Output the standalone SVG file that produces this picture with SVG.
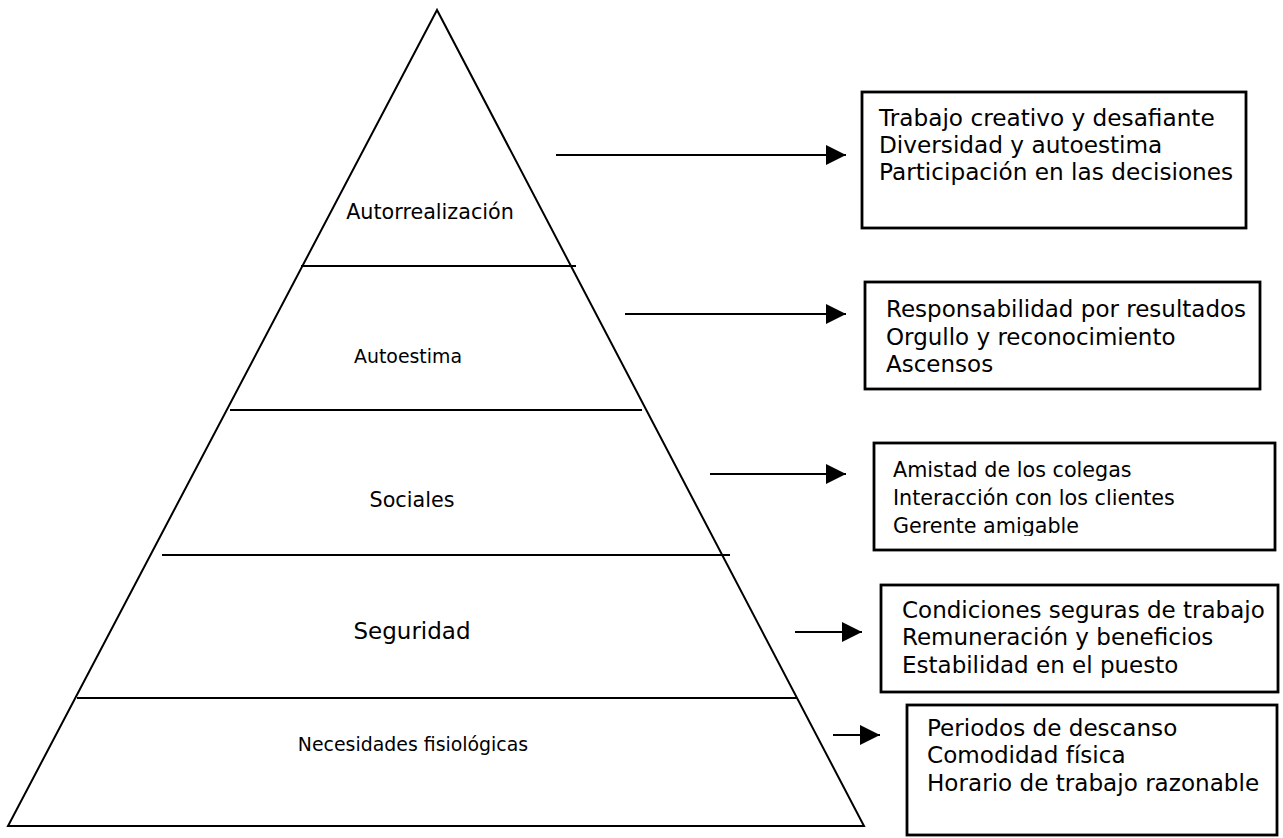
<svg xmlns="http://www.w3.org/2000/svg" width="1283" height="838" viewBox="0 0 1283 838">
<style>
.t{font-family:"DejaVu Sans","Verdana",sans-serif;font-size:20.7px;fill:#000}
.lbl{text-anchor:middle}
.big{font-size:23px}
.sm{font-size:18.9px}
.b1{font-size:23.2px}
.b2{font-size:23px}
.b3{font-size:20.7px}
.b4{font-size:23px}
.b5{font-size:23.1px}
.edge{stroke:#000;stroke-width:2;fill:none}
.box{stroke:#000;stroke-width:2.8;fill:#fff}
.arr{stroke:#000;stroke-width:2;fill:none;marker-end:url(#ah)}
</style>
<defs>
<marker id="ah" markerUnits="userSpaceOnUse" markerWidth="22" markerHeight="22" refX="20" refY="10" orient="auto">
<path d="M0,0 L20,10 L0,20 Z" fill="#000"/>
</marker>
<clipPath id="c3"><rect x="874" y="443" width="401" height="93"/></clipPath>
</defs>
<rect width="1283" height="838" fill="#fff"/>
<g id="pyramid">
<polygon class="edge" points="437,10 8,826 864,826"/>
<line class="edge" x1="301" y1="266" x2="576" y2="266"/>
<line class="edge" x1="230" y1="410" x2="642" y2="410"/>
<line class="edge" x1="162" y1="555" x2="730" y2="555"/>
<line class="edge" x1="77" y1="698" x2="797" y2="698"/>
</g>
<g id="lvl-autorrealizacion"><text class="t lbl" x="430" y="219">Autorrealización</text></g>
<g id="lvl-autoestima"><text class="t lbl sm" x="408" y="363">Autoestima</text></g>
<g id="lvl-sociales"><text class="t lbl" x="412" y="507">Sociales</text></g>
<g id="lvl-seguridad"><text class="t lbl big" x="412" y="639">Seguridad</text></g>
<g id="lvl-fisiologicas"><text class="t lbl sm" x="413" y="751">Necesidades fisiológicas</text></g>
<g id="connectors">
<line class="arr" x1="556" y1="155" x2="846" y2="155"/>
<line class="arr" x1="625" y1="314" x2="846" y2="314"/>
<line class="arr" x1="710" y1="474" x2="846" y2="474"/>
<line class="arr" x1="795" y1="632" x2="862" y2="632"/>
<line class="arr" x1="833" y1="735" x2="880" y2="735"/>
</g>
<g id="box1">
<rect class="box" x="862" y="92" width="384" height="136"/>
<text class="t b1" x="879" y="126">Trabajo creativo y desafiante</text>
<text class="t b1" x="879" y="153">Diversidad y autoestima</text>
<text class="t b1" x="879" y="180">Participación en las decisiones</text>
</g>
<g id="box2">
<rect class="box" x="865" y="282" width="395" height="107"/>
<text class="t b2" x="886" y="317">Responsabilidad por resultados</text>
<text class="t b2" x="886" y="345">Orgullo y reconocimiento</text>
<text class="t b2" x="886" y="372">Ascensos</text>
</g>
<g id="box3">
<rect class="box" x="874" y="443" width="401" height="107"/>
<g clip-path="url(#c3)">
<text class="t b3" x="893" y="477">Amistad de los colegas</text>
<text class="t b3" x="893" y="505">Interacción con los clientes</text>
<text class="t b3" x="893" y="533">Gerente amigable</text>
</g>
</g>
<g id="box4">
<rect class="box" x="881" y="585" width="397" height="107"/>
<text class="t b4" x="902" y="618">Condiciones seguras de trabajo</text>
<text class="t b4" x="902" y="645">Remuneración y beneficios</text>
<text class="t b4" x="902" y="673">Estabilidad en el puesto</text>
</g>
<g id="box5">
<rect class="box" x="907" y="705" width="370" height="130"/>
<text class="t b5" x="927" y="736">Periodos de descanso</text>
<text class="t b5" x="927" y="763">Comodidad física</text>
<text class="t b5" x="927" y="791">Horario de trabajo razonable</text>
</g>
</svg>
